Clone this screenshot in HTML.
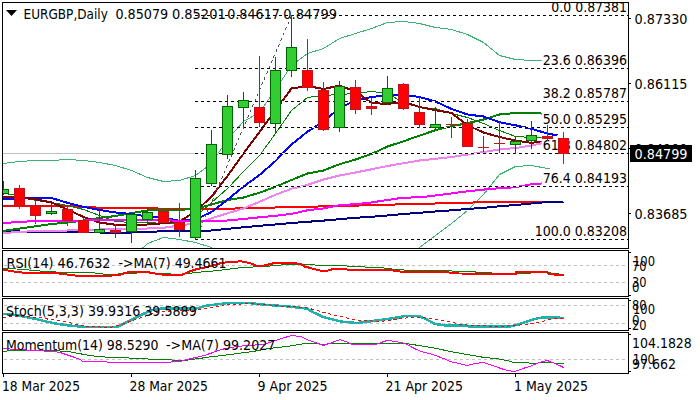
<!DOCTYPE html><html><head><meta charset="utf-8"><title>EURGBP,Daily</title><style>html,body{margin:0;padding:0;background:#fff;width:700px;height:400px;overflow:hidden}svg{display:block;font-family:'DejaVu Sans Condensed','DejaVu Sans','Liberation Sans',sans-serif}</style></head><body>
<svg width="700" height="400" viewBox="0 0 700 400">
<defs><clipPath id="cm"><rect x="3" y="3" width="625" height="245"/></clipPath><clipPath id="cl"><rect x="3" y="3" width="539" height="245"/></clipPath><clipPath id="cr"><rect x="3" y="251" width="625" height="45"/></clipPath><clipPath id="cs"><rect x="3" y="299" width="625" height="31"/></clipPath><clipPath id="cmo"><rect x="3" y="333" width="625" height="40"/></clipPath></defs>
<rect width="700" height="400" fill="#fff"/>
<g shape-rendering="crispEdges" clip-path="url(#cm)">
<line x1="3" y1="153.5" x2="628" y2="153.5" stroke="#c0c0c0" stroke-width="1"/>
<polyline points="-12.50,165.50 3.50,163.50 19.50,161.50 35.50,160.50 51.50,160.50 67.50,159.50 83.50,160.50 99.50,162.50 115.50,165.50 131.50,170.50 147.50,177.50 163.50,181.50 179.50,180.50 195.50,175.50 211.50,163.50 227.50,139.50 243.50,121.50 259.50,112.50 275.50,89.50 291.50,65.50 307.50,53.50 323.50,48.50 339.50,38.50 355.50,33.50 371.50,28.50 387.50,22.50 403.50,21.50 419.50,23.50 435.50,27.50 451.50,29.50 467.50,34.50 483.50,42.50 499.50,55.50 515.50,59.50 531.50,60.50 547.50,60.50 563.50,60.50" fill="none" stroke="#3cb371" stroke-width="1" />
<polyline points="115.50,275.50 131.50,258.50 147.50,243.50 163.50,237.50 179.50,239.50 195.50,242.50 211.50,247.50 227.50,262.50 243.50,275.50 259.50,285.50 275.50,290.50 291.50,295.50 307.50,298.50 323.50,300.50 339.50,300.50 355.50,298.50 371.50,285.50 387.50,272.50 403.50,260.50 419.50,247.50 435.50,235.50 451.50,223.50 467.50,210.50 483.50,194.50 499.50,174.50 515.50,166.50 531.50,165.50 547.50,168.50 563.50,172.50" fill="none" stroke="#3cb371" stroke-width="1" />
<polyline points="-12.50,206.00 3.50,206.00 19.50,206.00 35.50,206.00 51.50,206.00 67.50,206.00 83.50,206.80 99.50,207.70 115.50,208.00 131.50,208.00 147.50,208.20 163.50,208.70 179.50,208.60 195.50,208.60 211.50,208.60 227.50,208.70 243.50,208.30 259.50,208.00 275.50,207.50 291.50,207.00 307.50,206.70 323.50,206.40 339.50,206.10 355.50,205.60 371.50,205.20 387.50,204.70 403.50,204.30 419.50,203.90 435.50,203.50 451.50,203.00 467.50,202.60 483.50,202.30 499.50,202.20 515.50,202.20 531.50,202.00 547.50,201.50" fill="none" stroke="#ff0000" stroke-width="2" />
<polyline points="-12.50,230.50 3.50,231.00 19.50,231.50 35.50,232.00 51.50,232.00 67.50,232.30 83.50,232.50 99.50,232.50 115.50,232.50 131.50,232.50 147.50,231.80 163.50,231.30 179.50,231.20 195.50,231.00 211.50,230.50 227.50,228.80 243.50,227.30 259.50,225.80 275.50,224.50 291.50,223.00 307.50,221.80 323.50,220.60 339.50,219.20 355.50,217.80 371.50,216.80 387.50,215.50 403.50,214.00 419.50,212.80 435.50,211.50 451.50,210.30 467.50,209.00 483.50,207.80 499.50,206.30 515.50,205.00 531.50,203.50 547.50,202.00 563.50,201.70" fill="none" stroke="#000080" stroke-width="2" />
<polyline points="-12.50,192.50 3.50,193.50 19.50,195.50 35.50,200.50 51.50,202.50 67.50,205.50 83.50,209.50 99.50,215.50 115.50,221.50 131.50,222.50 147.50,222.50 163.50,223.50 179.50,223.50 195.50,216.50 211.50,202.50 227.50,188.50 243.50,171.50 259.50,155.50 275.50,133.50 291.50,110.50 307.50,97.50 323.50,95.50 339.50,94.50 355.50,93.50 371.50,91.50 387.50,93.50 403.50,102.50 419.50,107.50 435.50,108.50 451.50,113.50 467.50,117.50 483.50,123.50 499.50,130.50 515.50,136.50 531.50,137.50 547.50,137.50 563.50,137.50" fill="none" stroke="#008000" stroke-width="1" />
<polyline points="-12.50,233.20 3.50,230.90 19.50,228.60 35.50,226.30 51.50,224.00 67.50,222.50 83.50,220.60 99.50,218.00 115.50,216.00 131.50,213.00 147.50,210.50 163.50,210.00 179.50,209.80 195.50,209.00 211.50,204.50 227.50,200.00 243.50,197.50 259.50,192.70 275.50,186.80 291.50,180.00 307.50,173.50 323.50,170.50 339.50,164.20 355.50,159.50 371.50,154.00 387.50,146.50 403.50,141.30 419.50,135.60 435.50,130.20 451.50,126.20 467.50,123.20 483.50,119.50 499.50,114.50 515.50,113.00 531.50,112.80 547.50,114.00 563.50,115.00" fill="none" stroke="#008000" stroke-width="2" />
<polyline points="-12.50,199.50 3.50,199.00 19.50,198.50 35.50,197.70 51.50,198.00 67.50,202.80 83.50,206.80 99.50,210.00 115.50,212.50 131.50,214.00 147.50,216.50 163.50,218.00 179.50,220.70 195.50,219.50 211.50,212.00 227.50,199.80 243.50,186.50 259.50,175.00 275.50,161.00 291.50,144.50 307.50,131.60 323.50,121.50 339.50,108.00 355.50,100.50 371.50,97.00 387.50,95.20 403.50,95.00 419.50,97.00 435.50,101.50 451.50,109.00 467.50,114.50 483.50,116.50 499.50,122.20 515.50,125.30 531.50,128.80 547.50,133.60 557.50,135.40" fill="none" stroke="#0000ff" stroke-width="2" />
<polyline points="-12.50,196.50 3.50,197.00 19.50,197.50 35.50,199.30 51.50,202.50 67.50,209.50 83.50,217.00 99.50,222.50 115.50,224.80 131.50,224.80 147.50,224.50 163.50,223.20 179.50,221.50 195.50,211.50 211.50,196.50 227.50,176.00 243.50,153.50 259.50,132.00 275.50,110.20 291.50,88.50 307.50,86.00 323.50,89.00 339.50,85.60 355.50,91.40 371.50,102.90 387.50,104.00 403.50,102.00 419.50,107.00 435.50,110.20 451.50,113.00 467.50,125.00 483.50,132.50 499.50,137.00 515.50,140.60 531.50,142.80 547.50,141.00 563.50,141.00" fill="none" stroke="#800000" stroke-width="2" />
<polyline points="-12.50,234.00 3.50,233.00 19.50,232.00 35.50,231.00 51.50,230.80 67.50,230.50 83.50,230.00 99.50,229.50 115.50,229.30 131.50,229.00 147.50,228.50 163.50,227.80 179.50,225.50 195.50,223.50 211.50,218.30 227.50,213.30 243.50,208.50 259.50,201.80 275.50,194.80 291.50,188.70 307.50,184.90 323.50,179.50 339.50,175.50 355.50,172.50 371.50,169.30 387.50,166.00 403.50,163.30 419.50,160.50 435.50,158.80 451.50,157.00 467.50,154.50 483.50,152.00 499.50,149.50 515.50,148.00 531.50,145.50 547.50,142.00 563.50,141.00" fill="none" stroke="#ee82ee" stroke-width="2" />
<polyline points="-12.50,224.00 3.50,223.00 19.50,222.00 35.50,221.00 51.50,221.00 67.50,221.00 83.50,220.60 99.50,220.00 115.50,220.00 131.50,220.00 147.50,220.20 163.50,220.30 179.50,220.70 195.50,221.50 211.50,221.20 227.50,220.50 243.50,219.00 259.50,217.30 275.50,215.80 291.50,213.90 307.50,210.30 323.50,208.40 339.50,205.20 355.50,204.20 371.50,202.40 387.50,200.00 403.50,197.60 419.50,197.40 435.50,195.40 451.50,193.40 467.50,191.30 483.50,189.60 499.50,188.20 515.50,187.20 531.50,184.30 547.50,183.00 563.50,182.50" fill="none" stroke="#ff00ff" stroke-width="2" />
<line x1="195.5" y1="239.5" x2="291.5" y2="15.5" stroke="#505050" stroke-width="1" stroke-dasharray="3 3"/>
<line x1="195" y1="15.5" x2="628" y2="15.5" stroke="#fff" stroke-width="1"/>
<line x1="195" y1="15.5" x2="628" y2="15.5" stroke="#000" stroke-width="1" stroke-dasharray="3 3"/>
<line x1="195" y1="68.5" x2="628" y2="68.5" stroke="#fff" stroke-width="1"/>
<line x1="195" y1="68.5" x2="628" y2="68.5" stroke="#000" stroke-width="1" stroke-dasharray="3 3"/>
<line x1="195" y1="101.5" x2="628" y2="101.5" stroke="#fff" stroke-width="1"/>
<line x1="195" y1="101.5" x2="628" y2="101.5" stroke="#000" stroke-width="1" stroke-dasharray="3 3"/>
<line x1="195" y1="127.5" x2="628" y2="127.5" stroke="#fff" stroke-width="1"/>
<line x1="195" y1="127.5" x2="628" y2="127.5" stroke="#000" stroke-width="1" stroke-dasharray="3 3"/>
<line x1="195" y1="153.5" x2="628" y2="153.5" stroke="#fff" stroke-width="1"/>
<line x1="195" y1="153.5" x2="628" y2="153.5" stroke="#000" stroke-width="1" stroke-dasharray="3 3"/>
<line x1="195" y1="186.5" x2="628" y2="186.5" stroke="#fff" stroke-width="1"/>
<line x1="195" y1="186.5" x2="628" y2="186.5" stroke="#000" stroke-width="1" stroke-dasharray="3 3"/>
<line x1="195" y1="239.5" x2="628" y2="239.5" stroke="#fff" stroke-width="1"/>
<line x1="195" y1="239.5" x2="628" y2="239.5" stroke="#000" stroke-width="1" stroke-dasharray="3 3"/>
</g>
<g>
<rect x="550.3" y="-2" width="75.7" height="17" fill="#fff"/>
<text x="627" y="12" font-size="13.5" fill="#000" text-anchor="end" textLength="75.7" lengthAdjust="spacingAndGlyphs" >0.0 0.87381</text>
<rect x="541.7" y="51" width="84.3" height="17" fill="#fff"/>
<text x="627" y="65" font-size="13.5" fill="#000" text-anchor="end" textLength="84.3" lengthAdjust="spacingAndGlyphs" >23.6 0.86396</text>
<rect x="541.7" y="84" width="84.3" height="17" fill="#fff"/>
<text x="627" y="98" font-size="13.5" fill="#000" text-anchor="end" textLength="84.3" lengthAdjust="spacingAndGlyphs" >38.2 0.85787</text>
<rect x="541.7" y="110" width="84.3" height="17" fill="#fff"/>
<text x="627" y="124" font-size="13.5" fill="#000" text-anchor="end" textLength="84.3" lengthAdjust="spacingAndGlyphs" >50.0 0.85295</text>
<rect x="541.7" y="136" width="84.3" height="17" fill="#fff"/>
<text x="627" y="150" font-size="13.5" fill="#000" text-anchor="end" textLength="84.3" lengthAdjust="spacingAndGlyphs" >61.8 0.84802</text>
<rect x="541.7" y="169" width="84.3" height="17" fill="#fff"/>
<text x="627" y="183" font-size="13.5" fill="#000" text-anchor="end" textLength="84.3" lengthAdjust="spacingAndGlyphs" >76.4 0.84193</text>
<rect x="533.7" y="222" width="92.3" height="17" fill="#fff"/>
<text x="627" y="236" font-size="13.5" fill="#000" text-anchor="end" textLength="92.3" lengthAdjust="spacingAndGlyphs" >100.0 0.83208</text>
</g>
<g shape-rendering="crispEdges" clip-path="url(#cm)">
<rect x="3" y="181" width="1" height="14" fill="#006400"/>
<rect x="-2" y="189" width="11" height="5" fill="#006400"/>
<rect x="-1" y="190" width="9" height="3" fill="#32cd32"/>
<rect x="19" y="185" width="1" height="24" fill="#c0141e"/>
<rect x="14" y="188" width="11" height="18" fill="#c0141e"/>
<rect x="15" y="189" width="9" height="16" fill="#ff0000"/>
<rect x="35" y="200" width="1" height="24" fill="#c0141e"/>
<rect x="30" y="205" width="11" height="11" fill="#c0141e"/>
<rect x="31" y="206" width="9" height="9" fill="#ff0000"/>
<rect x="51" y="204" width="1" height="11" fill="#006400"/>
<rect x="46" y="211" width="11" height="3" fill="#006400"/>
<rect x="47" y="212" width="9" height="1" fill="#32cd32"/>
<rect x="67" y="205" width="1" height="21" fill="#c0141e"/>
<rect x="62" y="209" width="11" height="12" fill="#c0141e"/>
<rect x="63" y="210" width="9" height="10" fill="#ff0000"/>
<rect x="83" y="218" width="1" height="15" fill="#c0141e"/>
<rect x="78" y="220" width="11" height="13" fill="#c0141e"/>
<rect x="79" y="221" width="9" height="11" fill="#ff0000"/>
<rect x="99" y="210" width="1" height="23" fill="#006400"/>
<rect x="94" y="229" width="11" height="4" fill="#006400"/>
<rect x="95" y="230" width="9" height="2" fill="#32cd32"/>
<rect x="115" y="224" width="1" height="14" fill="#c0141e"/>
<rect x="110" y="230" width="11" height="3" fill="#c0141e"/>
<rect x="111" y="231" width="9" height="1" fill="#ff0000"/>
<rect x="131" y="212" width="1" height="31" fill="#006400"/>
<rect x="126" y="214" width="11" height="18" fill="#006400"/>
<rect x="127" y="215" width="9" height="16" fill="#32cd32"/>
<rect x="147" y="207" width="1" height="17" fill="#006400"/>
<rect x="142" y="212" width="11" height="8" fill="#006400"/>
<rect x="143" y="213" width="9" height="6" fill="#32cd32"/>
<rect x="163" y="209" width="1" height="14" fill="#c0141e"/>
<rect x="158" y="211" width="11" height="12" fill="#c0141e"/>
<rect x="159" y="212" width="9" height="10" fill="#ff0000"/>
<rect x="179" y="203" width="1" height="34" fill="#c0141e"/>
<rect x="174" y="222" width="11" height="8" fill="#c0141e"/>
<rect x="175" y="223" width="9" height="6" fill="#ff0000"/>
<rect x="195" y="170" width="1" height="70" fill="#006400"/>
<rect x="190" y="178" width="11" height="60" fill="#006400"/>
<rect x="191" y="179" width="9" height="58" fill="#32cd32"/>
<rect x="211" y="130" width="1" height="56" fill="#006400"/>
<rect x="206" y="144" width="11" height="40" fill="#006400"/>
<rect x="207" y="145" width="9" height="38" fill="#32cd32"/>
<rect x="227" y="95" width="1" height="64" fill="#006400"/>
<rect x="222" y="106" width="11" height="49" fill="#006400"/>
<rect x="223" y="107" width="9" height="47" fill="#32cd32"/>
<rect x="243" y="92" width="1" height="36" fill="#006400"/>
<rect x="238" y="100" width="11" height="8" fill="#006400"/>
<rect x="239" y="101" width="9" height="6" fill="#32cd32"/>
<rect x="259" y="56" width="1" height="71" fill="#c0141e"/>
<rect x="254" y="107" width="11" height="16" fill="#c0141e"/>
<rect x="255" y="108" width="9" height="14" fill="#ff0000"/>
<rect x="275" y="57" width="1" height="76" fill="#006400"/>
<rect x="270" y="70" width="11" height="54" fill="#006400"/>
<rect x="271" y="71" width="9" height="52" fill="#32cd32"/>
<rect x="291" y="15" width="1" height="62" fill="#006400"/>
<rect x="286" y="47" width="11" height="24" fill="#006400"/>
<rect x="287" y="48" width="9" height="22" fill="#32cd32"/>
<rect x="307" y="39" width="1" height="52" fill="#c0141e"/>
<rect x="302" y="70" width="11" height="18" fill="#c0141e"/>
<rect x="303" y="71" width="9" height="16" fill="#ff0000"/>
<rect x="323" y="82" width="1" height="49" fill="#c0141e"/>
<rect x="318" y="90" width="11" height="40" fill="#c0141e"/>
<rect x="319" y="91" width="9" height="38" fill="#ff0000"/>
<rect x="339" y="81" width="1" height="51" fill="#006400"/>
<rect x="334" y="86" width="11" height="42" fill="#006400"/>
<rect x="335" y="87" width="9" height="40" fill="#32cd32"/>
<rect x="355" y="80" width="1" height="34" fill="#c0141e"/>
<rect x="350" y="87" width="11" height="23" fill="#c0141e"/>
<rect x="351" y="88" width="9" height="21" fill="#ff0000"/>
<rect x="371" y="98" width="1" height="17" fill="#c0141e"/>
<rect x="366" y="106" width="11" height="3" fill="#c0141e"/>
<rect x="367" y="107" width="9" height="1" fill="#ff0000"/>
<rect x="387" y="76" width="1" height="29" fill="#006400"/>
<rect x="382" y="88" width="11" height="15" fill="#006400"/>
<rect x="383" y="89" width="9" height="13" fill="#32cd32"/>
<rect x="403" y="83" width="1" height="27" fill="#c0141e"/>
<rect x="398" y="84" width="11" height="25" fill="#c0141e"/>
<rect x="399" y="85" width="9" height="23" fill="#ff0000"/>
<rect x="419" y="97" width="1" height="31" fill="#c0141e"/>
<rect x="414" y="112" width="11" height="13" fill="#c0141e"/>
<rect x="415" y="113" width="9" height="11" fill="#ff0000"/>
<rect x="435" y="107" width="1" height="22" fill="#006400"/>
<rect x="430" y="124" width="11" height="4" fill="#006400"/>
<rect x="431" y="125" width="9" height="2" fill="#32cd32"/>
<rect x="451" y="117" width="1" height="21" fill="#c0141e"/>
<rect x="446" y="124" width="11" height="1" fill="#c0141e"/>
<rect x="467" y="119" width="1" height="28" fill="#c0141e"/>
<rect x="462" y="123" width="11" height="24" fill="#c0141e"/>
<rect x="463" y="124" width="9" height="22" fill="#ff0000"/>
<rect x="483" y="136" width="1" height="16" fill="#c0141e"/>
<rect x="478" y="147" width="11" height="1" fill="#c0141e"/>
<rect x="499" y="122" width="1" height="31" fill="#c0141e"/>
<rect x="494" y="143" width="11" height="1" fill="#c0141e"/>
<rect x="515" y="137" width="1" height="17" fill="#006400"/>
<rect x="510" y="141" width="11" height="4" fill="#006400"/>
<rect x="511" y="142" width="9" height="2" fill="#32cd32"/>
<rect x="531" y="121" width="1" height="28" fill="#006400"/>
<rect x="526" y="135" width="11" height="6" fill="#006400"/>
<rect x="527" y="136" width="9" height="4" fill="#32cd32"/>
<rect x="547" y="125" width="1" height="16" fill="#c0141e"/>
<rect x="542" y="136" width="11" height="3" fill="#c0141e"/>
<rect x="543" y="137" width="9" height="1" fill="#ff0000"/>
<rect x="563" y="132" width="1" height="32" fill="#c0141e"/>
<rect x="558" y="138" width="11" height="16" fill="#c0141e"/>
<rect x="559" y="139" width="9" height="14" fill="#ff0000"/>
</g>
<g shape-rendering="crispEdges" fill="none" stroke="#000" stroke-width="1">
<rect x="2.5" y="2.5" width="626" height="246"/>
<rect x="2.5" y="250.5" width="626" height="46"/>
<rect x="2.5" y="298.5" width="626" height="32"/>
<rect x="2.5" y="332.5" width="626" height="41"/>
</g>
<g shape-rendering="crispEdges" fill="#000">
<rect x="629" y="18" width="2" height="1"/>
<rect x="629" y="83" width="2" height="1"/>
<rect x="629" y="148" width="2" height="1"/>
<rect x="629" y="213" width="2" height="1"/>
<rect x="629" y="252" width="2" height="1"/>
<rect x="629" y="295" width="2" height="1"/>
<rect x="629" y="300" width="2" height="1"/>
<rect x="629" y="328" width="2" height="1"/>
<rect x="629" y="334" width="2" height="1"/>
<rect x="629" y="371" width="2" height="1"/>
<rect x="3" y="374" width="1" height="3"/>
<rect x="131" y="374" width="1" height="3"/>
<rect x="259" y="374" width="1" height="3"/>
<rect x="387" y="374" width="1" height="3"/>
<rect x="515" y="374" width="1" height="3"/>
</g>
<polygon points="6,10 17,10 11.5,16" fill="#000"/>
<text x="23.6" y="19" font-size="13.5" fill="#000" text-anchor="start" textLength="84.2" lengthAdjust="spacingAndGlyphs" >EURGBP,Daily</text>
<text x="115.4" y="19" font-size="13.5" fill="#000" text-anchor="start" textLength="52.8" lengthAdjust="spacingAndGlyphs" >0.85079</text>
<text x="171.9" y="19" font-size="13.5" fill="#000" text-anchor="start" textLength="53.8" lengthAdjust="spacingAndGlyphs" >0.85201</text>
<text x="227.2" y="19" font-size="13.5" fill="#000" text-anchor="start" textLength="52.8" lengthAdjust="spacingAndGlyphs" >0.84617</text>
<text x="283.3" y="19" font-size="13.5" fill="#000" text-anchor="start" textLength="53.6" lengthAdjust="spacingAndGlyphs" >0.84799</text>
<text x="634.5" y="24" font-size="13.5" fill="#000" text-anchor="start" textLength="53" lengthAdjust="spacingAndGlyphs" >0.87330</text>
<text x="634.5" y="89" font-size="13.5" fill="#000" text-anchor="start" textLength="53" lengthAdjust="spacingAndGlyphs" >0.86115</text>
<text x="634.5" y="154" font-size="13.5" fill="#000" text-anchor="start" textLength="53" lengthAdjust="spacingAndGlyphs" >0.84900</text>
<text x="634.5" y="219" font-size="13.5" fill="#000" text-anchor="start" textLength="53" lengthAdjust="spacingAndGlyphs" >0.83685</text>
<rect x="630" y="145" width="62" height="17" fill="#000"/>
<text x="634.5" y="159" font-size="13.5" fill="#fff" text-anchor="start" textLength="53" lengthAdjust="spacingAndGlyphs" >0.84799</text>
<g shape-rendering="crispEdges" clip-path="url(#cr)">
<line x1="3" y1="265.5" x2="628" y2="265.5" stroke="#c0c0c0" stroke-width="1" stroke-dasharray="3 3" stroke-dashoffset="5"/>
<line x1="3" y1="282.5" x2="628" y2="282.5" stroke="#c0c0c0" stroke-width="1" stroke-dasharray="3 3" stroke-dashoffset="5"/>
<polyline points="3.40,268.50 10.00,268.50 22.90,269.50 45.70,271.50 66.30,272.50 91.40,272.50 107.40,274.50 128.00,273.50 146.30,272.50 160.00,273.50 182.00,274.50 195.70,272.50 218.60,270.50 241.40,267.50 264.30,266.50 287.10,264.50 298.60,264.50 313.70,264.50 316.00,265.50 345.70,265.50 348.00,266.50 364.00,266.50 366.30,267.50 380.00,267.50 396.00,269.50 412.00,270.50 444.00,270.50 460.00,271.50 475.00,271.50 476.00,272.50 491.00,272.50 492.00,273.50 516.00,273.50 547.00,272.50 555.00,273.50 563.60,274.50" fill="none" stroke="#008000" stroke-width="1" />
<polyline points="3.40,270.00 8.00,270.50 13.70,271.50 19.50,272.20 27.00,273.00 43.40,273.20 59.40,273.50 68.60,274.70 75.40,275.60 110.00,275.60 120.00,275.10 124.60,272.90 132.60,271.70 146.30,271.70 150.90,272.90 163.70,274.70 182.00,274.70 188.90,271.70 195.70,269.40 207.10,267.10 218.60,263.70 227.70,261.90 241.40,261.40 250.60,263.30 257.40,266.00 264.30,265.50 273.40,263.30 291.70,262.60 300.90,264.20 304.60,266.50 311.40,268.30 320.60,270.60 327.40,270.60 334.30,268.70 345.70,268.70 348.00,269.90 391.40,269.90 396.00,271.30 402.90,271.70 444.00,271.70 450.90,272.90 459.00,273.50 516.00,273.80 516.30,272.40 547.00,272.40 548.00,273.50 555.00,273.50 555.10,274.70 563.60,274.70" fill="none" stroke="#ff0000" stroke-width="2" />
</g>
<text x="6.5" y="268" font-size="13.5" fill="#000" text-anchor="start" textLength="104" lengthAdjust="spacingAndGlyphs" >RSI(14) 46.7632</text>
<text x="118.5" y="268" font-size="13.5" fill="#000" text-anchor="start" textLength="108" lengthAdjust="spacingAndGlyphs" >-&gt;MA(7) 49.4661</text>
<text x="633" y="265.8" font-size="13.5" fill="#000" text-anchor="start" textLength="22" lengthAdjust="spacingAndGlyphs" >100</text>
<text x="632" y="270.5" font-size="13.5" fill="#000" text-anchor="start" textLength="14.5" lengthAdjust="spacingAndGlyphs" >70</text>
<text x="632" y="286.5" font-size="13.5" fill="#000" text-anchor="start" textLength="14.5" lengthAdjust="spacingAndGlyphs" >30</text>
<text x="632" y="291.5" font-size="13.5" fill="#000" text-anchor="start" textLength="7.5" lengthAdjust="spacingAndGlyphs" >0</text>
<g shape-rendering="crispEdges" clip-path="url(#cs)">
<line x1="3" y1="305.5" x2="628" y2="305.5" stroke="#c0c0c0" stroke-width="1" stroke-dasharray="3 3" stroke-dashoffset="5"/>
<line x1="3" y1="323.5" x2="628" y2="323.5" stroke="#c0c0c0" stroke-width="1" stroke-dasharray="3 3" stroke-dashoffset="5"/>
<polyline points="3.40,313.80 10.30,314.30 17.00,315.20 25.70,316.90 34.30,318.60 44.60,321.20 56.60,323.70 68.60,325.40 82.30,326.80 96.00,327.20 116.60,327.20 127.10,322.00 135.70,317.70 144.30,313.40 152.90,310.00 161.40,308.60 195.70,308.60 206.00,305.70 219.70,304.00 230.00,302.80 248.30,302.90 264.30,304.70 287.10,306.30 300.90,307.90 306.90,308.60 313.70,312.50 322.90,317.00 332.00,319.30 341.10,321.60 357.10,323.00 368.60,321.60 380.00,320.00 396.00,317.70 405.10,316.10 418.90,316.10 425.70,318.90 434.90,323.90 444.00,325.30 466.00,325.70 468.30,326.40 510.00,326.40 515.00,325.30 520.00,323.80 528.00,321.20 536.00,318.70 543.00,317.30 556.00,317.30 563.60,318.20" fill="none" stroke="#20b2aa" stroke-width="2.5" />
<polyline points="3.40,317.50 13.70,316.50 27.40,316.50 38.90,317.50 50.30,319.50 64.00,321.50 77.70,324.50 89.10,326.50 110.00,327.50 118.60,325.50 127.10,322.50 135.70,319.50 144.30,316.50 152.90,313.50 161.40,311.50 178.60,310.50 195.70,310.50 206.00,308.50 219.70,306.50 230.00,304.50 236.90,304.50 246.00,303.50 264.30,304.50 287.10,306.50 304.60,307.50 313.70,309.50 327.40,313.50 341.10,316.50 352.60,319.50 364.00,320.50 380.00,321.50 396.00,319.50 409.70,317.50 418.90,317.50 430.30,318.50 444.00,320.50 461.40,324.50 472.90,325.50 502.60,326.50 514.00,325.50 525.40,324.50 536.90,322.50 546.00,320.50 555.10,318.50 563.60,318.50" fill="none" stroke="#ff0000" stroke-width="1" stroke-dasharray="3 3" />
</g>
<text x="6" y="316" font-size="13.5" fill="#000" text-anchor="start" textLength="190.7" lengthAdjust="spacingAndGlyphs" >Stoch(5,3,3) 39.9316 39.5889</text>
<text x="632" y="310.1" font-size="13.5" fill="#000" text-anchor="start" textLength="14.5" lengthAdjust="spacingAndGlyphs" >80</text>
<text x="633" y="313.6" font-size="13.5" fill="#000" text-anchor="start" textLength="22" lengthAdjust="spacingAndGlyphs" >100</text>
<text x="632" y="325.1" font-size="13.5" fill="#000" text-anchor="start" textLength="7.5" lengthAdjust="spacingAndGlyphs" >0</text>
<text x="632" y="329.5" font-size="13.5" fill="#000" text-anchor="start" textLength="14.5" lengthAdjust="spacingAndGlyphs" >20</text>
<g shape-rendering="crispEdges" clip-path="url(#cmo)">
<line x1="3" y1="359.5" x2="628" y2="359.5" stroke="#c0c0c0" stroke-width="1" stroke-dasharray="3 3" stroke-dashoffset="5"/>
<polyline points="3.40,351.50 10.30,350.50 51.40,350.50 68.60,351.50 78.90,353.50 89.20,355.50 99.50,356.50 109.80,357.50 120.00,357.50 137.10,358.50 159.10,359.50 184.30,360.50 199.10,358.50 212.90,356.50 223.00,355.50 230.00,354.50 252.90,351.50 268.90,348.50 287.10,346.50 298.60,344.50 304.60,343.50 316.00,343.50 322.90,344.50 332.00,343.50 345.70,343.50 405.10,343.50 418.90,345.50 437.10,348.50 450.00,351.50 461.40,353.50 472.90,355.50 484.30,357.50 495.70,358.50 507.10,360.50 514.00,362.50 523.10,362.50 534.60,363.50 541.40,362.50 550.60,362.50 557.40,363.50 563.60,363.50" fill="none" stroke="#008000" stroke-width="1" />
<polyline points="3.40,348.50 17.20,349.50 53.20,351.50 60.00,352.50 72.00,356.50 80.60,359.50 82.30,361.50 106.30,361.50 108.00,362.50 170.00,362.50 171.70,361.50 180.30,361.50 187.10,359.50 195.70,357.50 204.30,355.50 212.90,352.50 221.40,349.50 230.00,347.50 246.00,345.50 264.30,344.50 278.00,339.50 291.70,335.50 300.90,336.50 309.10,340.50 316.00,342.50 322.90,345.50 329.70,343.50 340.00,339.50 348.00,342.50 352.60,344.50 375.40,344.50 386.90,340.50 396.00,341.50 405.10,343.50 414.30,348.50 421.10,351.50 432.60,354.50 446.30,359.50 450.00,361.50 459.10,363.50 467.10,365.50 475.10,363.50 483.10,362.50 490.00,364.50 498.00,367.50 507.10,370.50 515.10,371.50 523.10,368.50 532.30,365.50 539.10,362.50 547.10,360.50 555.10,363.50 563.60,367.50" fill="none" stroke="#ff00ff" stroke-width="1" />
</g>
<text x="6" y="350" font-size="13.5" fill="#000" text-anchor="start" textLength="152.5" lengthAdjust="spacingAndGlyphs" >Momentum(14) 98.5290</text>
<text x="166" y="350" font-size="13.5" fill="#000" text-anchor="start" textLength="109.4" lengthAdjust="spacingAndGlyphs" >-&gt;MA(7) 99.2027</text>
<text x="632" y="347.5" font-size="13.5" fill="#000" text-anchor="start" textLength="59.8" lengthAdjust="spacingAndGlyphs" >104.1828</text>
<text x="632.8" y="364.4" font-size="13.5" fill="#000" text-anchor="start" textLength="22" lengthAdjust="spacingAndGlyphs" >100</text>
<text x="632" y="368.5" font-size="13.5" fill="#000" text-anchor="start" textLength="44" lengthAdjust="spacingAndGlyphs" >97.662</text>
<text x="2" y="390.5" font-size="13.5" fill="#000" text-anchor="start" textLength="78" lengthAdjust="spacingAndGlyphs" >18 Mar 2025</text>
<text x="129.5" y="390.5" font-size="13.5" fill="#000" text-anchor="start" textLength="78.5" lengthAdjust="spacingAndGlyphs" >28 Mar 2025</text>
<text x="257.5" y="390.5" font-size="13.5" fill="#000" text-anchor="start" textLength="70" lengthAdjust="spacingAndGlyphs" >9 Apr 2025</text>
<text x="385.5" y="390.5" font-size="13.5" fill="#000" text-anchor="start" textLength="77.5" lengthAdjust="spacingAndGlyphs" >21 Apr 2025</text>
<text x="514" y="390.5" font-size="13.5" fill="#000" text-anchor="start" textLength="74" lengthAdjust="spacingAndGlyphs" >1 May 2025</text>
</svg></body></html>
